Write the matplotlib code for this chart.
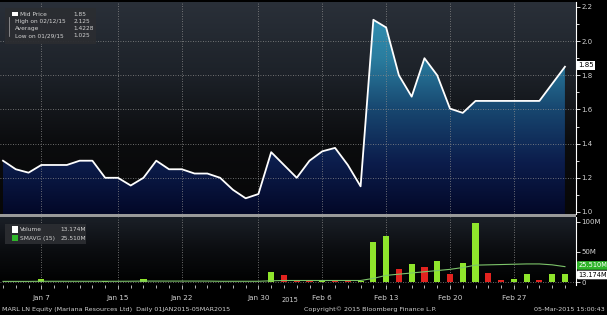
import numpy as np
import pandas as pd
import matplotlib
matplotlib.use('Agg')
import matplotlib.pyplot as plt
from matplotlib.colors import LinearSegmentedColormap
from matplotlib.patches import Rectangle
import matplotlib.transforms as mtransforms

# Daily data, 02 Jan 2015 - 05 Mar 2015 (trading days)
dates = pd.bdate_range('2015-01-02', '2015-03-05')

prices = [1.30, 1.25, 1.23, 1.275, 1.275, 1.275, 1.30, 1.30, 1.20, 1.20,
          1.155, 1.20, 1.30, 1.25, 1.25, 1.225, 1.225, 1.20, 1.13, 1.08,
          1.105, 1.35, 1.275, 1.20, 1.30, 1.355, 1.375, 1.275, 1.15, 2.125,
          2.08, 1.80, 1.675, 1.90, 1.80, 1.605, 1.58, 1.65, 1.65, 1.65,
          1.65, 1.65, 1.65, 1.75, 1.85]

# volume in millions
volume = [0.5, 0.5, 0.8, 5.0, 0.5, 0.5, 0.5, 0.5, 1.0, 0.5,
          0.5, 5.0, 0.8, 0.5, 0.5, 0.5, 0.5, 0.5, 0.5, 0.5,
          0.5, 16.0, 11.0, 1.5, 1.0, 1.5, 1.0, 1.0, 2.0, 67.0,
          77.0, 22.0, 30.0, 24.5, 35.0, 13.0, 32.0, 98.0, 14.5, 3.0,
          5.0, 13.0, 3.0, 13.0, 13.174]
vol_dir = ['u', 'u', 'u', 'u', 'u', 'u', 'u', 'u', 'u', 'u',
           'u', 'u', 'u', 'u', 'u', 'u', 'u', 'u', 'u', 'u',
           'u', 'u', 'd', 'd', 'd', 'u', 'd', 'd', 'u', 'u',
           'u', 'd', 'u', 'd', 'u', 'd', 'u', 'u', 'd', 'd',
           'u', 'u', 'd', 'u', 'u']

smavg = [1.0, 1.0, 1.0, 1.2, 1.2, 1.2, 1.2, 1.2, 1.2, 1.2,
         1.3, 1.5, 1.5, 1.5, 1.5, 1.5, 1.5, 1.2, 1.2, 1.2,
         1.2, 2.0, 2.5, 2.5, 2.5, 2.5, 2.5, 2.5, 2.5, 6.0,
         11.0, 13.0, 15.0, 17.0, 19.0, 21.0, 24.0, 28.0, 28.5, 29.0,
         29.5, 30.0, 30.0, 28.5, 25.51]

tick_dates = ['2015-01-07', '2015-01-15', '2015-01-22', '2015-01-30',
              '2015-02-06', '2015-02-13', '2015-02-20', '2015-02-27']
tick_labels = ['Jan 7', 'Jan 15', 'Jan 22', 'Jan 30', 'Feb 6', 'Feb 13', 'Feb 20', 'Feb 27']

x = np.arange(len(dates))
tick_pos = [dates.get_loc(pd.Timestamp(d)) for d in tick_dates]

txt = '#d2d2d2'
grid_kw = dict(color='#8c8c8c', lw=0.6, linestyle=(0, (1, 2)))

fig = plt.figure(figsize=(6.07, 3.15), dpi=100)
fig.patch.set_facecolor('black')

ax1 = fig.add_axes([0, 0.3206, 0.949, 0.673])
ax2 = fig.add_axes([0, 0.0952, 0.949, 0.216], sharex=ax1)

xlim = (-0.235, 44.87)

# ---------- price panel ----------
ylim1 = (0.988, 2.229)
ax1.set_xlim(*xlim)
ax1.set_ylim(*ylim1)
bg = LinearSegmentedColormap.from_list('bg', ['#070707', '#0b0c0e', '#1d2229', '#2a3039'])
grad = np.linspace(0, 1, 256).reshape(-1, 1)
ax1.imshow(grad, cmap=bg, aspect='auto', origin='lower',
           extent=[xlim[0], xlim[1], ylim1[0], ylim1[1]], zorder=0)

fillmap = LinearSegmentedColormap.from_list('fill', ['#030828', '#0c1d4c', '#17466f', '#2a7d9f', '#3694b6'])
poly = ax1.fill_between(x, prices, ylim1[0], color='none', lw=0)
img = ax1.imshow(grad, cmap=fillmap, aspect='auto', origin='lower',
                 extent=[x[0], x[-1], ylim1[0], 2.2], zorder=1)
img.set_clip_path(poly.get_paths()[0], transform=ax1.transData)
ax1.plot(x, prices, color='white', lw=1.3, zorder=3)

ax1.set_yticks(np.arange(1.0, 2.21, 0.2))
ax1.set_yticks(np.arange(1.1, 2.2, 0.2), minor=True)
ax1.set_xticks(tick_pos)
for yv in np.arange(1.2, 2.01, 0.2):
    ax1.axhline(yv, zorder=2, **grid_kw)
for xv in tick_pos:
    ax1.axvline(xv, zorder=2, **grid_kw)
ax1.yaxis.tick_right()
ax1.tick_params(axis='y', which='both', colors='white', labelcolor=txt,
                labelsize=5, length=3, width=0.6, pad=1)
ax1.tick_params(axis='y', which='minor', length=2)
ax1.tick_params(axis='x', which='both', bottom=False, labelbottom=False)
for s in ['top', 'left', 'bottom']:
    ax1.spines[s].set_visible(False)
ax1.spines['right'].set_color('white')
ax1.spines['right'].set_linewidth(0.8)

# last price marker on axis
ax1.text(1.004, prices[-1] + 0.008, f'{prices[-1]:.2f}',
         transform=mtransforms.blended_transform_factory(ax1.transAxes, ax1.transData),
         fontsize=5, color='black', va='center', ha='left', clip_on=False,
         bbox=dict(boxstyle='square,pad=0.2', fc='white', ec='none'))

# legend box
ax1.add_patch(Rectangle((0.008, 0.80), 0.158, 0.172, transform=ax1.transAxes,
                        fc='#2b2d31', ec='none', alpha=0.95, zorder=5))
leg_rows = [('Mid Price', '1.85'), ('High on 02/12/15', '2.125'),
            ('Average', '1.4228'), ('Low on 01/29/15', '1.025')]
for k, (lab, val) in enumerate(leg_rows):
    yy = 0.942 - k * 0.034
    ax1.text(0.035 if k == 0 else 0.026, yy, lab, transform=ax1.transAxes,
             fontsize=4.2, color=txt, va='center', zorder=6)
    ax1.text(0.127, yy, val, transform=ax1.transAxes,
             fontsize=4.2, color=txt, va='center', zorder=6)
ax1.add_patch(Rectangle((0.021, 0.934), 0.011, 0.018, transform=ax1.transAxes,
                        fc='white', ec='none', zorder=6))
ax1.plot([0.016, 0.016], [0.93, 0.84], transform=ax1.transAxes, color='#aaaaaa', lw=0.5, zorder=6)

# ---------- volume panel ----------
ylim2 = (-5, 108)
ax2.set_ylim(*ylim2)
bg2 = LinearSegmentedColormap.from_list('bg2', ['#000000', '#0b0d10', '#1b2028'])
ax2.imshow(grad, cmap=bg2, aspect='auto', origin='lower',
           extent=[xlim[0], xlim[1], ylim2[0], ylim2[1]], zorder=0)
bar_colors = ['#8fe52c' if d == 'u' else '#e3231f' for d in vol_dir]
ax2.bar(x, volume, width=0.48, color=bar_colors, zorder=3)
ax2.plot(x, smavg, color='#7dc46a', lw=0.8, zorder=4)
ax2.axhline(0, zorder=2, **grid_kw)
for xv in tick_pos:
    ax2.axvline(xv, zorder=2, **grid_kw)

ax2.set_yticks([0, 50, 100])
ax2.set_yticklabels(['0', '50M', '100M'])
ax2.yaxis.tick_right()
ax2.tick_params(axis='y', colors='white', labelcolor=txt, labelsize=5, length=3, width=0.6, pad=1)
ax2.set_xticks(tick_pos)
ax2.set_xticklabels(tick_labels)
ax2.set_xticks(x, minor=True)
ax2.tick_params(axis='x', which='both', colors='white', labelcolor=txt,
                labelsize=5.2, length=3, width=0.5, pad=4)
ax2.tick_params(axis='x', which='minor', length=2)
for s in ['top', 'left', 'bottom']:
    ax2.spines[s].set_visible(False)
ax2.spines['right'].set_color('white')
ax2.spines['right'].set_linewidth(0.8)

tr2 = mtransforms.blended_transform_factory(ax2.transAxes, ax2.transData)
ax2.text(1.004, smavg[-1] + 2, '25.510M', transform=tr2, fontsize=4.8, color='white',
         va='center', ha='left', clip_on=False,
         bbox=dict(boxstyle='round,pad=0.2', fc='#2fb52a', ec='none'))
ax2.text(1.004, volume[-1] - 1.5, '13.174M', transform=tr2, fontsize=4.8, color='black',
         va='center', ha='left', clip_on=False,
         bbox=dict(boxstyle='round,pad=0.2', fc='white', ec='none'))

# volume legend
ax2.add_patch(Rectangle((0.008, 0.60), 0.142, 0.30, transform=ax2.transAxes,
                        fc='#2b2d31', ec='none', alpha=0.95, zorder=5))
ax2.add_patch(Rectangle((0.021, 0.77), 0.011, 0.09, transform=ax2.transAxes,
                        fc='white', ec='none', zorder=6))
ax2.add_patch(Rectangle((0.021, 0.64), 0.011, 0.09, transform=ax2.transAxes,
                        fc='#2fb52a', ec='none', zorder=6))
ax2.text(0.035, 0.815, 'Volume', transform=ax2.transAxes, fontsize=4.2, color=txt, va='center', zorder=6)
ax2.text(0.105, 0.815, '13.174M', transform=ax2.transAxes, fontsize=4.2, color=txt, va='center', zorder=6)
ax2.text(0.035, 0.685, 'SMAVG (15)', transform=ax2.transAxes, fontsize=4.2, color=txt, va='center', zorder=6)
ax2.text(0.105, 0.685, '25.510M', transform=ax2.transAxes, fontsize=4.2, color=txt, va='center', zorder=6)

# separator between panels
fig.patches.append(Rectangle((0, 0.3116), 0.949, 0.0095, transform=fig.transFigure,
                             fc='#9a9a9a', ec='none'))

# year label and footer
fig.text(0.478, 0.048, '2015', fontsize=4.8, color=txt, ha='center', va='center')
fig.text(0.004, 0.018, 'MARL LN Equity (Mariana Resources Ltd)  Daily 01JAN2015-05MAR2015',
         fontsize=4.6, color=txt, ha='left', va='center')
fig.text(0.61, 0.018, 'Copyright\u00a9 2015 Bloomberg Finance L.P.',
         fontsize=4.6, color=txt, ha='center', va='center')
fig.text(0.996, 0.018, '05-Mar-2015 15:00:43',
         fontsize=4.6, color=txt, ha='right', va='center')

fig.savefig('out.png', dpi=100, facecolor=fig.get_facecolor())
